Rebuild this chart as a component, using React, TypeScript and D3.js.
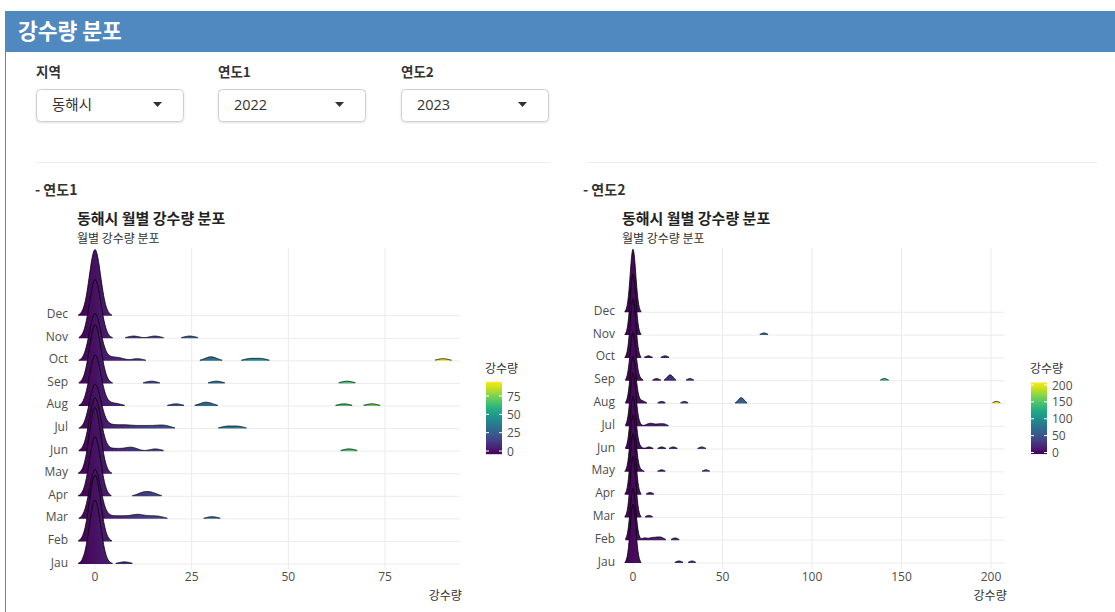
import React from "react";
import * as d3 from "d3";

// ---------- data ----------
const months = ["Jau", "Feb", "Mar", "Apr", "May", "Jun", "Jul", "Aug", "Sep", "Oct", "Nov", "Dec"];
const daysInMonth2022 = [31, 28, 31, 30, 31, 30, 31, 31, 30, 31, 30, 31];
const daysInMonth2023 = [31, 28, 31, 30, 31, 30, 31, 31, 30, 31, 30, 31];

// rainy-day amounts (mm) per month; remaining days are 0 mm
const rain2022: number[][] = [
  [7.6],
  [],
  [3, 5.5, 8, 10.5, 11.5, 14, 16.5, 30.3],
  [12, 13.5, 15],
  [],
  [2.5, 5.5, 8.5, 10, 15.6, 65.7],
  [1.5, 3, 5, 7, 9, 11.5, 14, 16.5, 18.5, 34, 37],
  [1, 3, 5.5, 20.9, 28, 29.5, 64.4, 71.6],
  [1.5, 14.6, 31.4, 65.2],
  [2.5, 4.5, 6.5, 11, 29.5, 30.5, 40, 43, 90],
  [1.5, 10, 15.5, 24.5],
  [],
];

const rain2023: number[][] = [
  [25.7, 33],
  [6.5, 10.5, 13.5, 16, 23.5],
  [8.9],
  [9.5],
  [4, 16, 40.8],
  [3.5, 9, 16, 22.5, 38.4],
  [3, 8.5, 11, 14.5, 17.5],
  [3, 5.5, 16, 28.7, 59.8, 60.5, 61, 203],
  [3.5, 13.2, 20, 20.8, 21.5, 31.8, 140.4],
  [8.6, 17.9],
  [73.2],
  [],
];

const ticks2022 = [0, 25, 50, 75];
const ticks2023 = [0, 50, 100, 150, 200];

const FONT = "'Open Sans', 'Noto Sans CJK KR', sans-serif";
const KFONT = "'Noto Sans CJK KR', 'Open Sans', sans-serif";

type Cfg = {
  id: string;
  rain: number[][];
  days: number[];
  ticks: number[];
  bw: number;
  zeroPx: number;
  refVal: number;
  refPx: number;
  baseJau: number;
  baseDec: number;
  peakH: number;
  panelTop: number;
  panelBottom: number;
  labelRight: number;
  titleX: number;
  sectionX: number;
  legendX: number;
  legend0Y: number;
  legendRefVal: number;
  legendRefY: number;
};

const gauss = (u: number) => Math.exp(-0.5 * u * u) / Math.sqrt(2 * Math.PI);

function Ridges({ cfg }: { cfg: Cfg }) {
  const { rain, days, bw } = cfg;
  const all = rain.flat();
  const lo = Math.min(0, ...all) - 3 * bw;
  const hi = Math.max(...all) + 3 * bw;
  const x = d3.scaleLinear().domain([0, cfg.refVal]).range([cfg.zeroPx, cfg.refPx]);
  const y = d3.scalePoint<string>().domain(months).range([cfg.baseJau, cfg.baseDec]);
  const N = 600;
  const grid = d3.range(N).map((i) => lo + ((hi - lo) * i) / (N - 1));
  const dens = months.map((_, mi) => {
    const vals = rain[mi];
    const n = days[mi];
    const n0 = n - vals.length;
    return grid.map((g) => {
      let s = n0 * gauss(g / bw);
      for (const v of vals) s += gauss((g - v) / bw);
      return s / (n * bw);
    });
  });
  const gmax = d3.max(dens.flat()) as number;
  const h = d3.scaleLinear().domain([0, gmax]).range([0, cfg.peakH]);
  const cut = 0.01 * gmax;
  const gradId = `grad-${cfg.id}`;
  const legGradId = `lgrad-${cfg.id}`;
  const stops = d3.range(0, 1.0001, 0.05);

  const ridgeEls: React.ReactNode[] = [];
  for (let mi = months.length - 1; mi >= 0; mi--) {
    const base = y(months[mi]) as number;
    const d = dens[mi];
    const runs: number[][] = [];
    let cur: number[] = [];
    d.forEach((v, i) => {
      if (v >= cut) cur.push(i);
      else if (cur.length) {
        runs.push(cur);
        cur = [];
      }
    });
    if (cur.length) runs.push(cur);
    runs.forEach((run, ri) => {
      const area = d3
        .area<number>()
        .x((i) => x(grid[i]))
        .y0(base)
        .y1((i) => base - h(d[i]))(run);
      const line = d3
        .line<number>()
        .x((i) => x(grid[i]))
        .y((i) => base - h(d[i]))(run);
      ridgeEls.push(
        <g key={`${mi}-${ri}`}>
          <path d={area || ""} fill={`url(#${gradId})`} />
          <path d={line || ""} fill="none" stroke="#000" strokeWidth={0.8} />
        </g>
      );
    });
  }

  const panelLeft = x(lo);
  const panelRight = x(hi);
  const ly = d3.scaleLinear().domain([0, cfg.legendRefVal]).range([cfg.legend0Y, cfg.legendRefY]);
  const barTop = ly(hi);
  const barBot = ly(lo);
  const barW = 16;

  return (
    <g>
      <defs>
        <linearGradient id={gradId} gradientUnits="userSpaceOnUse" x1={x(lo)} x2={x(hi)} y1={0} y2={0}>
          {stops.map((t) => (
            <stop key={t} offset={t} stopColor={d3.interpolateViridis(t)} />
          ))}
        </linearGradient>
        <linearGradient id={legGradId} x1={0} x2={0} y1={1} y2={0}>
          {stops.map((t) => (
            <stop key={t} offset={t} stopColor={d3.interpolateViridis(t)} />
          ))}
        </linearGradient>
      </defs>
      <text x={cfg.sectionX} y={195} fontFamily={KFONT} fontSize={14} fontWeight="bold" fill="#333">
        - 연도{cfg.id === "a" ? "1" : "2"}
      </text>
      <text x={cfg.titleX} y={224} fontFamily={KFONT} fontSize={15} fontWeight="bold" fill="#222">
        동해시 월별 강수량 분포
      </text>
      <text x={cfg.titleX} y={242.5} fontFamily={KFONT} fontSize={12} fill="#333">
        월별 강수량 분포
      </text>
      {/* grid */}
      {cfg.ticks.map((t) => (
        <line key={`v${t}`} x1={x(t)} x2={x(t)} y1={cfg.panelTop} y2={cfg.panelBottom} stroke="#ebebeb" strokeWidth={1} />
      ))}
      {months.map((m) => (
        <line key={`h${m}`} x1={panelLeft} x2={panelRight} y1={y(m)} y2={y(m)} stroke="#ebebeb" strokeWidth={1} />
      ))}
      {ridgeEls}
      {/* axes */}
      {months.map((m) => (
        <text
          key={`yl${m}`}
          x={cfg.labelRight}
          y={(y(m) as number) - 2}
          textAnchor="end"
          dominantBaseline="central"
          fontFamily={FONT}
          fontSize={12}
          fill="#4d4d4d"
        >
          {m}
        </text>
      ))}
      {cfg.ticks.map((t) => (
        <text key={`xl${t}`} x={x(t)} y={581} textAnchor="middle" fontFamily={FONT} fontSize={12} fill="#4d4d4d">
          {t}
        </text>
      ))}
      <text x={panelRight + 2} y={600} textAnchor="end" fontFamily={KFONT} fontSize={12} fill="#333">
        강수량
      </text>
      {/* legend */}
      <text x={cfg.legendX - 1} y={373} fontFamily={KFONT} fontSize={12} fill="#333">
        강수량
      </text>
      <rect x={cfg.legendX} y={barTop} width={barW} height={barBot - barTop} fill={`url(#${legGradId})`} />
      {cfg.ticks.map((t) => (
        <g key={`lt${t}`}>
          <line x1={cfg.legendX} x2={cfg.legendX + 3} y1={ly(t)} y2={ly(t)} stroke="#fff" strokeWidth={1} />
          <line x1={cfg.legendX + barW - 3} x2={cfg.legendX + barW} y1={ly(t)} y2={ly(t)} stroke="#fff" strokeWidth={1} />
          <text
            x={cfg.legendX + barW + 5}
            y={ly(t)}
            dominantBaseline="central"
            fontFamily={FONT}
            fontSize={12}
            fill="#4d4d4d"
          >
            {t}
          </text>
        </g>
      ))}
    </g>
  );
}

const cfgA: Cfg = {
  id: "a",
  rain: rain2022,
  days: daysInMonth2022,
  ticks: ticks2022,
  bw: 1.45,
  zeroPx: 95,
  refVal: 75,
  refPx: 385,
  baseJau: 564,
  baseDec: 315.7,
  peakH: 66,
  panelTop: 248,
  panelBottom: 569,
  labelRight: 68,
  titleX: 77,
  sectionX: 35,
  legendX: 486,
  legend0Y: 451,
  legendRefVal: 75,
  legendRefY: 396,
};

const cfgB: Cfg = {
  id: "b",
  rain: rain2023,
  days: daysInMonth2023,
  ticks: ticks2023,
  bw: 1.55,
  zeroPx: 633,
  refVal: 200,
  refPx: 991,
  baseJau: 563,
  baseDec: 312.3,
  peakH: 63,
  panelTop: 248,
  panelBottom: 569,
  labelRight: 615,
  titleX: 622,
  sectionX: 583,
  legendX: 1031,
  legend0Y: 452.5,
  legendRefVal: 200,
  legendRefY: 385,
};

const selects = [
  { label: "지역", value: "동해시", x: 36 },
  { label: "연도1", value: "2022", x: 218 },
  { label: "연도2", value: "2023", x: 401 },
];

export default function App() {
  return (
    <svg
      width={1115}
      height={612}
      style={{ position: "absolute", left: 0, top: 0, background: "#fff" }}
    >
      <defs>
        <filter id="sh" x="-10%" y="-10%" width="120%" height="140%">
          <feDropShadow dx="0" dy="1" stdDeviation="0.8" floodColor="#000" floodOpacity="0.12" />
        </filter>
      </defs>
      <rect x={5.5} y={11.5} width={1115} height={620} fill="#fff" stroke="#5089bf" strokeWidth={1} />
      <rect x={5} y={11} width={1110} height={41} fill="#5089bf" />
      <text x={18} y={39} fontFamily={KFONT} fontSize={21.5} fontWeight="bold" fill="#fff">
        강수량 분포
      </text>
      {selects.map((s) => (
        <g key={s.label}>
          <text x={s.x} y={77} fontFamily={KFONT} fontSize={13.5} fontWeight="bold" fill="#333">
            {s.label}
          </text>
          <rect x={s.x + 0.5} y={89.5} width={147} height={32} rx={4} fill="#fff" stroke="#cfcfcf" filter="url(#sh)" />
          <text x={s.x + 16} y={110} fontFamily={FONT} fontSize={14.5} fill="#333">
            {s.value}
          </text>
          <path d={`M${s.x + 117},${102} l9,0 l-4.5,5 z`} fill="#333" />
        </g>
      ))}
      <line x1={36} x2={550} y1={162.5} y2={162.5} stroke="#eeeeee" />
      <line x1={587} x2={1097} y1={162.5} y2={162.5} stroke="#eeeeee" />
      <Ridges cfg={cfgA} />
      <Ridges cfg={cfgB} />
    </svg>
  );
}
